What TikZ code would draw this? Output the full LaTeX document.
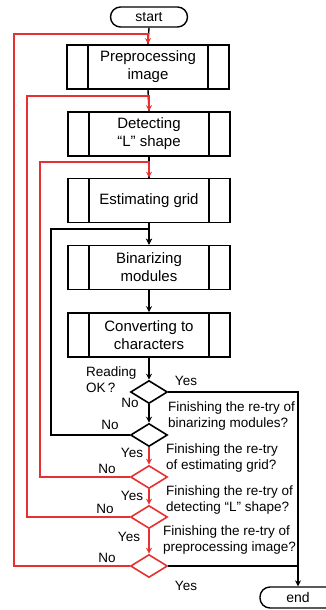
\documentclass[tikz,border=0pt]{standalone}
\usepackage{fontspec}
\setmainfont{Liberation Sans}
\usetikzlibrary{shapes.geometric, arrows.meta}
\definecolor{loopred}{RGB}{232,48,48}
\tikzset{
  procbox/.style={draw, line width=1.6pt, minimum width=162pt, minimum height=44pt,
    align=center, font=\fontsize{15}{18}\selectfont,
    path picture={
      \draw[line width=1.6pt] ([xshift=21pt]path picture bounding box.north west) -- ([xshift=21pt]path picture bounding box.south west);
      \draw[line width=1.6pt] ([xshift=-21pt]path picture bounding box.north east) -- ([xshift=-21pt]path picture bounding box.south east);
    }},
  termbox/.style={draw, line width=1.4pt, rounded corners=10pt, minimum width=77pt,
    minimum height=20pt, inner sep=0pt, font=\fontsize{14}{16}\selectfont},
  decbox/.style={draw, diamond, line width=1.6pt, minimum width=37pt, minimum height=23pt,
    inner sep=0pt, aspect=1.6},
  small/.style={font=\fontsize{13.5}{16}\selectfont, inner sep=0pt},
  flow/.style={line width=1.4pt, -{Stealth[length=6pt,width=6pt]}},
  plain/.style={line width=1.4pt},
  redflow/.style={line width=1.6pt, draw=loopred, -{Stealth[length=6pt,width=6pt,fill=loopred]}},
}
\begin{document}
\begin{tikzpicture}[x=1pt, y=-1pt]
      \useasboundingbox (0,0) rectangle (326,610);

      % process steps
      \node[termbox] (start) at (149,17) {start};
      \node[procbox] (pre) at (148,67) {Preprocessing\\image};
      \node[procbox] (det) at (149,134) {Detecting\\“L” shape};
      \node[procbox] (est) at (149,200.5) {Estimating grid};
      \node[procbox] (bin) at (149,267.5) {Binarizing\\modules};
      \node[procbox] (conv) at (149,335) {Converting to\\characters};

      % decisions
      \node[decbox] (ok) at (149,392) {};
      \node[decbox] (rbin) at (149,435) {};
      \node[decbox, draw=loopred] (rest) at (149,477) {};
      \node[decbox, draw=loopred] (rdet) at (149,517) {};
      \node[decbox, draw=loopred] (rpre) at (149,566) {};
      \node[termbox, minimum width=76pt, minimum height=21pt] (end) at (298,597.5) {end};

      % loop corners
      \coordinate (cpre) at (14,34);
      \coordinate (cdet) at (27,96);
      \coordinate (cest) at (40,162);
      \coordinate (cbin) at (51,229);

      % main flow
      \draw[plain] (start.south) -- (pre.north);
      \draw[plain] (pre.south) -- (det.north);
      \draw[plain] (det.south) -- (est.north);
      \draw[flow] (est.south) -- (bin.north);
      \draw[flow] (bin.south) -- (conv.north);
      \draw[flow] (conv.south) -- (ok.north);
      \draw[flow] (ok.south) -- (rbin.north);
      \draw[flow] (ok.east) -| (end.north); % reading OK
      \draw[plain] (rpre.east) -- (end.north |- rpre.east); % all re-tries done

      % re-try loops
      \draw[flow] (rbin.west) -| (cbin) -| (bin.north);
      \draw[redflow] (rbin.south) -- (rest.north);
      \draw[redflow] (rest.south) -- (rdet.north);
      \draw[redflow] (rdet.south) -- (rpre.north);
      \draw[redflow] (rest.west) -| (cest) -| (est.north);
      \draw[redflow] (rdet.west) -| (cdet) -| (det.north);
      \draw[redflow] (rpre.west) -| (cpre) -| (pre.north);

      % labels
      \node[small, anchor=west, align=left] (lok) at (86,380) {Reading\\OK\,?};
      \node[small] (yok) at (186,381) {Yes};
      \node[small] (nok) at (130,403) {No};
      \node[small, anchor=west, align=left] (qbin) at (168,416) {Finishing the re-try of\\binarizing modules?};
      \node[small] (nbin) at (110,425) {No};
      \node[small] (ybin) at (132,453) {Yes};
      \node[small, anchor=west, align=left] (qest) at (166,458) {Finishing the re-try\\of estimating grid?};
      \node[small] (nest) at (107,469) {No};
      \node[small] (yest) at (132,496) {Yes};
      \node[small, anchor=west, align=left] (qdet) at (166,500) {Finishing the re-try of\\detecting “L” shape?};
      \node[small] (ndet) at (105,509) {No};
      \node[small] (ydet) at (129,537) {Yes};
      \node[small, anchor=west, align=left] (qpre) at (163,540.5) {Finishing the re-try of\\preprocessing image?};
      \node[small] (npre) at (107,558) {No};
      \node[small] (ypre) at (186,586) {Yes};
\end{tikzpicture}
\end{document}
